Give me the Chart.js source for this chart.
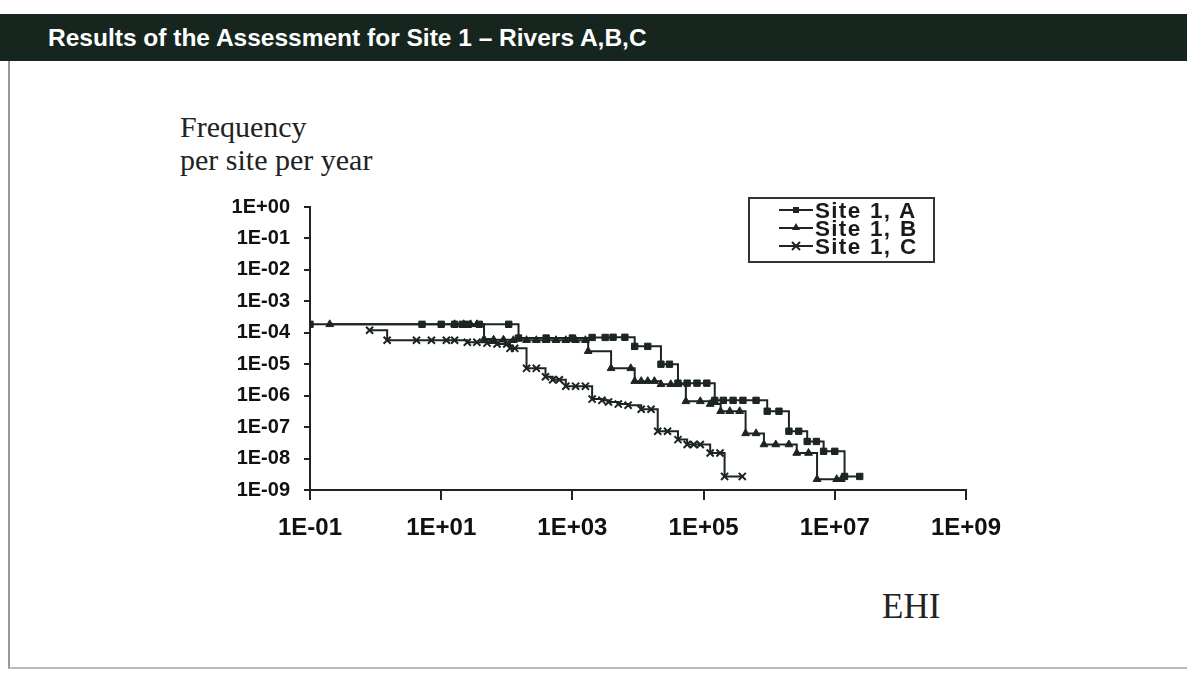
<!DOCTYPE html>
<html>
<head>
<meta charset="utf-8">
<script src="https://cdn.jsdelivr.net/npm/chart.js@4.4.1/dist/chart.umd.min.js"></script>
<style>
  body { margin: 0; background: #fff; width: 1187px; height: 673px; overflow: hidden; position: relative; font-family: "Liberation Sans", Arial, sans-serif; }
  .titlebar { position: absolute; left: 0; top: 14px; width: 1187px; height: 47px; background: #16261f; display: flex; align-items: center; }
  .titlebar span { margin-left: 48px; color: #fff; font-weight: bold; font-size: 24.5px; }
  .frame { position: absolute; left: 8px; top: 61px; width: 1179px; height: 606px; border-left: 2px solid #999; border-bottom: 2px solid #bbb; }
  .serif { position: absolute; font-family: "Liberation Serif", "Times New Roman", serif; color: #222; line-height: 34px; }
  #chartBox { position: absolute; left: 180px; top: 181px; width: 835px; height: 365px; }
  .legend { position: absolute; left: 748px; top: 197px; width: 183px; height: 62px; border: 2px solid #333; background: #fff; }
  .legend div { height: 18px; line-height: 18px; font-weight: bold; font-size: 22.5px; color: #1a1a1a; white-space: nowrap; position: relative; left: 29px; top: 3px; letter-spacing: 1.3px; word-spacing: 1px; }
  .legend svg { vertical-align: middle; margin-right: 2px; position: relative; top: -2px; }
</style>
</head>
<body>
<div class="titlebar"><span>Results of the Assessment for Site 1 – Rivers A,B,C</span></div>
<div class="frame"></div>
<div class="serif" style="left:180px; top:110px; font-size:30px;">Frequency</div>
<div class="serif" style="left:180px; top:143px; font-size:30px;">per site per year</div>
<div class="serif" style="left:882px; top:587px; font-size:35px; line-height:40px;">EHI</div>
<div id="chartBox"><canvas id="chart"></canvas></div>
<div class="legend">
  <div><svg width="34" height="12"><line x1="0" y1="6" x2="34" y2="6" stroke="#222" stroke-width="2"/><rect x="14" y="3" width="6" height="6" fill="#222"/></svg>Site 1, A</div>
  <div><svg width="34" height="12"><line x1="0" y1="6" x2="34" y2="6" stroke="#222" stroke-width="2"/><polygon points="17,1 21,8 13,8" fill="#222"/></svg>Site 1, B</div>
  <div><svg width="34" height="12"><line x1="0" y1="6" x2="34" y2="6" stroke="#222" stroke-width="2"/><path d="M13,2 L21,10 M21,2 L13,10" stroke="#222" stroke-width="2"/></svg>Site 1, C</div>
</div>
<script>
// EHI (x) and frequency per site per year (y)
const ehiA = [0.1, 5.1, 10, 16, 21, 26, 38, 107, 151, 398, 1000, 2000, 3160, 4170, 6310, 8910, 14100, 22400, 30200,
  40700, 56200, 79400, 112000, 148000, 200000, 282000, 398000, 631000, 933000, 1.41e6, 2.0e6, 2.82e6, 3.8e6, 5.25e6,
  6.76e6, 1.0e7, 1.41e7, 2.4e7];
const freqA = [1.86e-4, 1.86e-4, 1.86e-4, 1.86e-4, 1.86e-4, 1.86e-4, 1.86e-4, 1.86e-4, 6.8e-5, 6.8e-5, 6.8e-5, 7.1e-5,
  7.1e-5, 7.2e-5, 7.2e-5, 3.7e-5, 3.7e-5, 1.0e-5, 1.0e-5, 2.5e-6, 2.5e-6, 2.5e-6, 2.5e-6, 7.1e-7, 7.1e-7, 7.1e-7,
  7.1e-7, 7.1e-7, 3.2e-7, 3.2e-7, 7.4e-8, 7.4e-8, 3.5e-8, 3.5e-8, 1.7e-8, 1.7e-8, 2.7e-9, 2.7e-9];

const ehiB = [0.2, 16, 22, 28, 35, 45, 63, 89, 126, 200, 282, 398, 562, 794, 1120, 1580, 1740, 3890, 7760, 8910, 11200,
  14100, 17800, 22400, 31600, 40700, 53700, 89100, 126000, 182000, 251000, 355000, 437000, 631000, 832000, 1.26e6,
  2.0e6, 2.63e6, 3.98e6, 5.37e6, 1.07e7, 1.26e7];
const freqB = [1.86e-4, 1.86e-4, 1.86e-4, 1.86e-4, 1.86e-4, 6.3e-5, 6.0e-5, 6.0e-5, 5.8e-5, 5.8e-5, 5.8e-5, 5.8e-5,
  5.8e-5, 5.8e-5, 5.8e-5, 5.8e-5, 2.6e-5, 7.4e-6, 7.4e-6, 2.9e-6, 2.9e-6, 2.9e-6, 2.9e-6, 2.3e-6, 2.3e-6, 2.3e-6,
  6.6e-7, 6.6e-7, 5.4e-7, 3.2e-7, 3.2e-7, 3.2e-7, 6.3e-8, 6.3e-8, 2.8e-8, 2.8e-8, 2.8e-8, 1.5e-8, 1.5e-8, 2.2e-9,
  2.2e-9, 2.2e-9];

const ehiC = [0.81, 1.5, 4.2, 7.1, 12, 16, 25, 35, 50, 71, 100, 112, 132, 200, 282, 389, 501, 631, 794, 1120, 1580,
  2000, 2820, 3550, 5010, 7080, 11200, 15800, 20000, 28200, 40700, 56200, 70800, 89100, 126000, 178000, 209000, 389000];
const freqC = [1.2e-4, 5.8e-5, 5.8e-5, 5.8e-5, 5.8e-5, 5.8e-5, 5.0e-5, 5.0e-5, 4.7e-5, 4.4e-5, 4.4e-5, 3.2e-5, 3.2e-5,
  7.4e-6, 7.4e-6, 4.0e-6, 3.2e-6, 3.2e-6, 2.0e-6, 2.0e-6, 2.0e-6, 7.8e-7, 7.1e-7, 6.3e-7, 5.4e-7, 5.0e-7, 3.7e-7,
  3.7e-7, 7.4e-8, 7.4e-8, 4.0e-8, 2.8e-8, 2.8e-8, 2.8e-8, 1.5e-8, 1.5e-8, 2.7e-9, 2.7e-9];

const xTicks = [1e-1, 1e1, 1e3, 1e5, 1e7, 1e9];
const yTicks = [1, 1e-1, 1e-2, 1e-3, 1e-4, 1e-5, 1e-6, 1e-7, 1e-8, 1e-9];

const ink = '#1c2520';
const fontFamily = '"Liberation Sans", Arial, sans-serif';

function sci(v) {
  const e = Math.round(Math.log10(v));
  return '1E' + (e < 0 ? '-' : '+') + String(Math.abs(e)).padStart(2, '0');
}

function series(label, xs, ys, style, radius) {
  return {
    label: label,
    data: xs.map((x, i) => ({ x: x, y: ys[i] })),
    stepped: true,
    borderColor: ink,
    borderWidth: 2,
    backgroundColor: ink,
    pointStyle: style,
    pointRadius: radius,
    pointBorderWidth: style === 'crossRot' ? 2 : 1,
    pointBorderColor: ink,
    pointBackgroundColor: ink
  };
}

new Chart(document.getElementById('chart'), {
  type: 'line',
  data: {
    datasets: [
      series('Site 1, A', ehiA, freqA, 'rect', 4.5),
      series('Site 1, B', ehiB, freqB, 'triangle', 4.5),
      series('Site 1, C', ehiC, freqC, 'crossRot', 5)
    ]
  },
  options: {
    responsive: true,
    maintainAspectRatio: false,
    animation: false,
    layout: { padding: { top: 25, right: 45, left: 0, bottom: 0 } },
    plugins: { legend: { display: false }, tooltip: { enabled: false } },
    scales: {
      x: {
        type: 'logarithmic',
        min: 1e-1,
        max: 1e9,
        afterBuildTicks: s => { s.ticks = xTicks.map(v => ({ value: v })); },
        afterFit: s => { s.height = 56; },
        ticks: { callback: v => sci(v), color: '#111', font: { family: fontFamily, size: 24, weight: 'bold' }, padding: 14, maxRotation: 0, autoSkip: false },
        grid: { drawOnChartArea: false, drawTicks: true, tickLength: 10, color: '#222', lineWidth: 2 },
        border: { color: '#222', width: 2 }
      },
      y: {
        type: 'logarithmic',
        min: 1e-9,
        max: 1,
        afterBuildTicks: s => { s.ticks = yTicks.map(v => ({ value: v })); },
        afterFit: s => { s.width = 130; },
        ticks: { callback: v => sci(v), color: '#111', font: { family: fontFamily, size: 20, weight: 'bold' }, padding: 14, autoSkip: false },
        grid: { drawOnChartArea: false, drawTicks: true, tickLength: 6, color: '#222', lineWidth: 2 },
        border: { color: '#222', width: 2 }
      }
    }
  }
});
</script>
</body>
</html>
